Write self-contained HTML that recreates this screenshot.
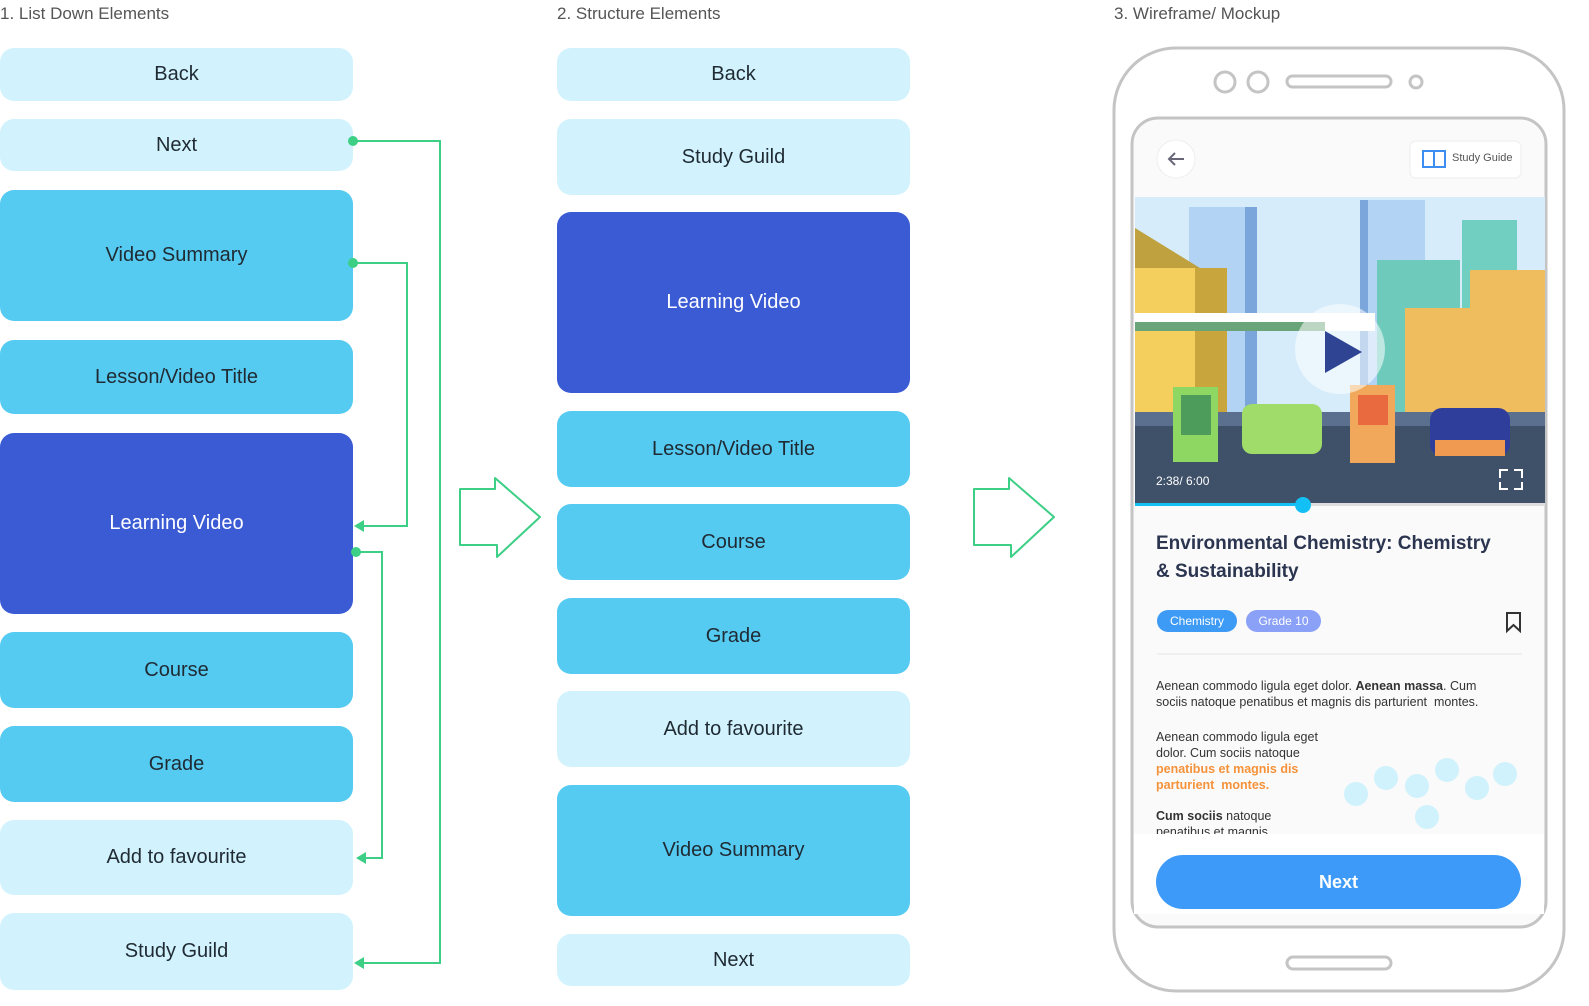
<!DOCTYPE html>
<html><head><meta charset="utf-8"><style>
*{margin:0;padding:0;box-sizing:border-box}
body{width:1589px;height:1006px;background:#fff;position:relative;overflow:hidden;font-family:"Liberation Sans",sans-serif;color:#222}
.h{position:absolute;top:4px;font-size:17px;color:#555}
.b{position:absolute;width:353px;border-radius:14px;display:flex;align-items:center;justify-content:center;font-size:20px;color:#1f2a33}
.l{background:#d2f3fd}.m{background:#56cbf2}.d{background:#3a5bd4;color:#fff}
.a{position:absolute;font-family:"Liberation Sans",sans-serif}
</style></head><body>
<div class="h" style="left:0">1. List Down Elements</div>
<div class="h" style="left:557px">2. Structure Elements</div>
<div class="h" style="left:1114px">3. Wireframe/ Mockup</div>

<div class="b l" style="left:0;top:48px;height:53px">Back</div>
<div class="b l" style="left:0;top:119px;height:52px">Next</div>
<div class="b m" style="left:0;top:190px;height:131px">Video Summary</div>
<div class="b m" style="left:0;top:340px;height:74px">Lesson/Video Title</div>
<div class="b d" style="left:0;top:433px;height:181px">Learning Video</div>
<div class="b m" style="left:0;top:632px;height:76px">Course</div>
<div class="b m" style="left:0;top:726px;height:76px">Grade</div>
<div class="b l" style="left:0;top:820px;height:75px">Add to favourite</div>
<div class="b l" style="left:0;top:913px;height:77px">Study Guild</div>

<div class="b l" style="left:557px;top:48px;height:53px">Back</div>
<div class="b l" style="left:557px;top:119px;height:76px">Study Guild</div>
<div class="b d" style="left:557px;top:212px;height:181px">Learning Video</div>
<div class="b m" style="left:557px;top:411px;height:76px">Lesson/Video Title</div>
<div class="b m" style="left:557px;top:504px;height:76px">Course</div>
<div class="b m" style="left:557px;top:598px;height:76px">Grade</div>
<div class="b l" style="left:557px;top:691px;height:76px">Add to favourite</div>
<div class="b m" style="left:557px;top:785px;height:131px">Video Summary</div>
<div class="b l" style="left:557px;top:934px;height:52px">Next</div>

<svg style="position:absolute;left:0;top:0" width="1589" height="1006">
<g fill="none" stroke="#3ccf85" stroke-width="2">
<polyline points="353,141 440,141 440,963 362,963"/>
<polyline points="353,263 407,263 407,526 362,526"/>
<polyline points="356,552 382,552 382,858 364,858"/>
<path d="M460,489 H495 V478 L540,517 L497,557 V545 H460 Z" stroke-linejoin="round"/>
<path d="M974,489 H1009 V478 L1054,517 L1011,557 V545 H974 Z" stroke-linejoin="round"/>
</g>
<g fill="#3ccf85">
<circle cx="353" cy="141" r="5"/><circle cx="353" cy="263" r="5"/><circle cx="356" cy="552" r="5"/>
<polygon points="354,526 364,520 364,532"/><polygon points="356,858 366,852 366,864"/><polygon points="354,963 364,957 364,969"/>
</g>
<rect x="1114" y="48" width="450" height="943" rx="62" fill="#fff" stroke="#c4c4c4" stroke-width="3"/>
<circle cx="1225" cy="82" r="10" fill="none" stroke="#c4c4c4" stroke-width="3"/>
<circle cx="1258" cy="82" r="10" fill="none" stroke="#c4c4c4" stroke-width="3"/>
<rect x="1287" y="76" width="104" height="11" rx="5.5" fill="none" stroke="#c4c4c4" stroke-width="3"/>
<circle cx="1416" cy="82" r="6" fill="none" stroke="#c4c4c4" stroke-width="3"/>
<rect x="1287" y="957" width="104" height="12" rx="6" fill="none" stroke="#c4c4c4" stroke-width="3"/>
<rect x="1132" y="118" width="414" height="809" rx="26" fill="#fafafa" stroke="#c4c4c4" stroke-width="3"/>
<rect x="1134" y="834" width="410" height="80" fill="#fff"/>
<circle cx="1176" cy="159" r="19" fill="#fff" stroke="#eee"/>
<path d="M1184,159 H1169 M1175,153 L1169,159 L1175,165" stroke="#667" stroke-width="2" fill="none"/>
<rect x="1410" y="141" width="111" height="37" rx="6" fill="#fff" stroke="#eee"/>
<rect x="1423" y="151" width="22" height="16" fill="none" stroke="#3d8ef0" stroke-width="2"/>
<line x1="1434" y1="151" x2="1434" y2="167" stroke="#3d8ef0" stroke-width="2"/>
<clipPath id="v"><rect x="1135" y="197" width="410" height="308"/></clipPath>
<g clip-path="url(#v)">
<rect x="1135" y="197" width="410" height="308" fill="#d6ecfb"/>
<rect x="1189" y="207" width="68" height="210" fill="#b3d3f5"/><rect x="1245" y="207" width="12" height="210" fill="#7aa6db"/>
<rect x="1360" y="200" width="65" height="210" fill="#b3d3f5"/><rect x="1360" y="200" width="8" height="210" fill="#7aa6db"/>
<rect x="1462" y="220" width="55" height="200" fill="#70cfc0"/>
<rect x="1377" y="260" width="83" height="160" fill="#6ecbbc"/>
<polygon points="1135,228 1200,268 1200,420 1135,420" fill="#bfa23f"/>
<rect x="1135" y="268" width="60" height="160" fill="#f4cf5d"/><rect x="1195" y="268" width="32" height="160" fill="#c9a53e"/>
<rect x="1135" y="313" width="240" height="18" fill="#fff"/><rect x="1135" y="322" width="190" height="9" fill="#6aa57a"/>
<rect x="1405" y="308" width="140" height="120" fill="#f0bd5e"/><rect x="1470" y="270" width="75" height="50" fill="#f0bd5e"/>
<rect x="1135" y="420" width="410" height="85" fill="#3f5069"/>
<rect x="1135" y="412" width="410" height="14" fill="#5b6f8f"/>
<rect x="1173" y="387" width="45" height="75" fill="#8ed763"/><rect x="1181" y="395" width="30" height="40" fill="#4e9c5c"/>
<rect x="1242" y="404" width="80" height="50" rx="10" fill="#9fdc6a"/>
<rect x="1350" y="385" width="45" height="78" fill="#f1a85a"/><rect x="1358" y="395" width="30" height="30" fill="#e86a3e"/>
<rect x="1430" y="408" width="80" height="48" rx="12" fill="#2f3d9b"/><rect x="1435" y="440" width="70" height="16" fill="#ef9a50"/>
<circle cx="1340" cy="349" r="45" fill="#fff" opacity="0.55"/>
<polygon points="1325,331 1325,373 1362,352" fill="#2f4493"/>
</g>
<path d="M1500,478 V470 H1508 M1514,470 H1522 V478 M1522,482 V489 H1514 M1508,489 H1500 V482" stroke="#fff" stroke-width="2" fill="none"/>
<rect x="1135" y="503" width="410" height="3" fill="#ddd"/><rect x="1135" y="503" width="170" height="3" fill="#12c0f5"/>
<circle cx="1303" cy="505" r="8" fill="#12c0f5"/>
<rect x="1157" y="610" width="80" height="22" rx="11" fill="#3d9af5"/>
<rect x="1246" y="610" width="75" height="22" rx="11" fill="#8aa1f7"/>
<path d="M1507,613 H1520 V631 L1513.5,625 L1507,631 Z" fill="none" stroke="#333" stroke-width="2"/>
<line x1="1157" y1="654" x2="1522" y2="654" stroke="#e4e4e4"/>
<g fill="#d0f2fc"><circle cx="1356" cy="794" r="12"/><circle cx="1386" cy="778" r="12"/><circle cx="1417" cy="786" r="12"/><circle cx="1447" cy="770" r="12"/><circle cx="1477" cy="788" r="12"/><circle cx="1505" cy="774" r="12"/><circle cx="1427" cy="817" r="12"/></g>
<rect x="1156" y="855" width="365" height="54" rx="27" fill="#3d9af8"/>
</svg>
<div class="a" style="left:1156px;top:474px;font-size:12px;color:#fff">2:38/ 6:00</div>
<div class="a" style="left:1452px;top:152px;font-size:11px;color:#555">Study Guide</div>
<div class="a" style="left:1156px;top:530px;font-size:19px;font-weight:bold;color:#2b3550;line-height:28px;width:335px">Environmental Chemistry: Chemistry &amp; Sustainability</div>
<div class="a" style="left:1157px;top:610px;width:80px;line-height:22px;text-align:center;font-size:12px;color:#fff">Chemistry</div>
<div class="a" style="left:1246px;top:610px;width:75px;line-height:22px;text-align:center;font-size:12px;color:#fff">Grade 10</div>
<div class="a" style="left:1156px;top:678px;font-size:12.5px;color:#333;line-height:16px;width:335px">Aenean commodo ligula eget dolor. <b>Aenean massa</b>. Cum sociis natoque penatibus et magnis dis parturient&nbsp; montes.</div>
<div class="a" style="left:1156px;top:729px;font-size:12.5px;color:#333;line-height:16px;width:180px">Aenean commodo ligula eget dolor. Cum sociis natoque <b style="color:#f5923a">penatibus et magnis dis parturient&nbsp; montes.</b></div>
<div class="a" style="left:1156px;top:808px;font-size:12.5px;color:#333;line-height:16px;width:130px;height:26px;overflow:hidden"><b>Cum sociis</b> natoque penatibus et magnis dis</div>
<div class="a" style="left:1156px;top:872px;width:365px;text-align:center;font-size:18px;font-weight:bold;color:#fff">Next</div>
</body></html>
